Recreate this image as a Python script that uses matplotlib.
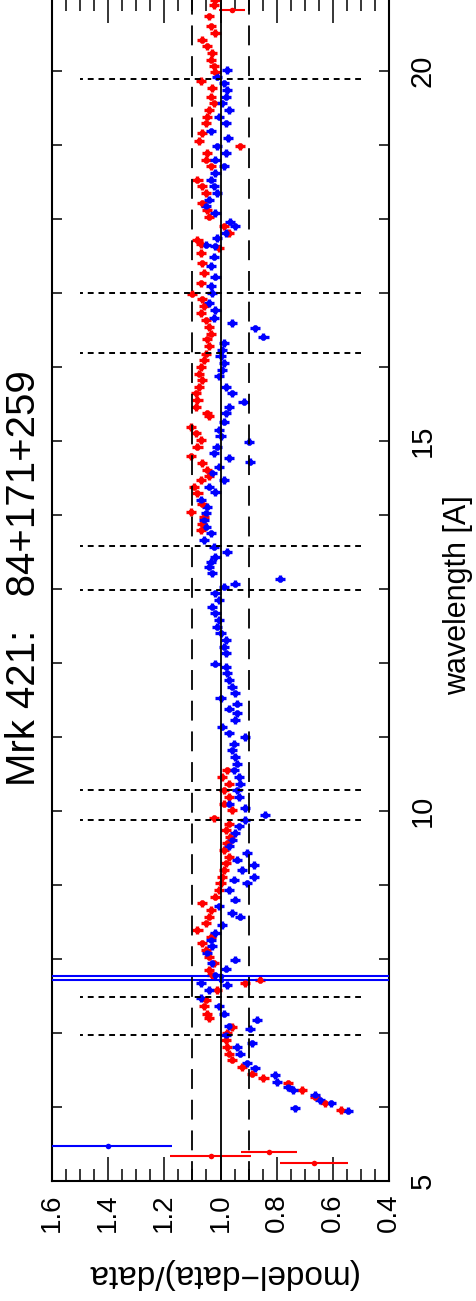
#!/usr/bin/env python3

"""
Mrk 421 residuals (model-data)/data vs wavelength, rotated page layout.
"""

import matplotlib
matplotlib.use("Agg")
import matplotlib.pyplot as plt
from matplotlib.ticker import MultipleLocator

plt.rcParams['font.family'] = ['Liberation Sans', 'DejaVu Sans']

# red spectrum: wavelength [A] and residual
red_wl = [20.96, 20.89, 20.735, 20.60, 20.51, 20.42, 20.33, 20.24, 20.15, 20.06,
          19.99, 19.86, 19.77, 19.65, 19.56, 19.47, 19.38, 19.29, 19.16, 19.05,
          18.98, 18.89, 18.80, 18.71, 18.53, 18.44, 18.35, 18.21, 18.12, 18.03,
          17.90, 17.81, 17.72, 17.66, 17.60, 17.54, 17.40, 17.27, 17.13, 16.99,
          16.91, 16.82, 16.73, 16.63, 16.54, 16.45, 16.37, 16.28, 16.18, 16.09,
          16.00, 15.91, 15.82, 15.73, 15.64, 15.55, 15.46, 15.37, 15.33, 15.19,
          15.10, 15.01, 14.92, 14.79, 14.70, 14.61, 14.52, 14.38, 14.47, 14.29,
          14.15, 14.04, 13.97, 13.88, 13.79,
          10.55, 10.46, 10.37, 10.28, 10.19, 10.10, 10.01, 9.90, 9.83, 9.74,
          9.65, 9.56, 9.47, 9.38, 9.29, 9.20, 9.11, 9.02, 8.93, 8.84,
          8.75, 8.66, 8.57, 8.48, 8.39, 8.30, 8.21, 8.12, 8.03, 7.94,
          7.85, 7.78, 7.72, 7.67, 7.58, 7.45, 7.36, 7.26, 7.20, 7.08,
          7.00, 6.90, 6.81, 6.72, 6.64, 6.54, 6.45, 6.39, 6.32, 6.23,
          6.14, 6.05, 5.96]
red_val = [1.018, 1.024, 1.041, 1.035, 1.018, 1.065, 1.047, 1.029, 1.035, 1.024,
           1.018, 1.071, 1.029, 1.035, 1.024, 1.041, 1.047, 1.053, 1.065, 1.077,
           0.929, 1.047, 1.053, 1.035, 1.082, 1.065, 1.053, 1.065, 1.047, 1.041,
           0.988, 0.971, 1.082, 1.071, 1.006, 1.071, 1.065, 1.059, 1.071, 1.100,
           1.065, 1.059, 1.071, 1.053, 1.041, 1.035, 1.047, 1.041, 1.053, 1.059,
           1.071, 1.077, 1.065, 1.077, 1.088, 1.082, 1.088, 1.047, 1.041, 1.106,
           1.088, 1.071, 1.082, 1.106, 1.065, 1.047, 1.041, 1.094, 1.071, 1.082,
           1.065, 1.106, 1.059, 1.065, 1.071,
           0.976, 0.994, 0.971, 0.988, 0.971, 0.988, 0.959, 1.024, 0.971, 0.982,
           0.965, 0.976, 0.988, 0.971, 0.982, 0.988, 0.994, 1.000, 1.006, 1.018,
           1.065, 1.035, 1.041, 1.053, 1.082, 1.035, 1.065, 1.053, 1.041, 1.024,
           1.041, 1.029, 0.859, 0.912, 1.012, 1.053, 1.059, 1.047, 1.041, 0.959,
           0.976, 0.982, 0.976, 0.971, 0.959, 0.923, 0.888, 0.847, 0.759, 0.711,
           0.664, 0.629, 0.570]

# blue spectrum
blue_wl = [20.01, 19.92, 19.83, 19.74, 19.65, 19.56, 19.47, 19.38, 19.29, 19.18,
           19.09, 18.98, 18.89, 18.80, 18.71, 18.62, 18.53, 18.44, 18.35, 18.26,
           18.17, 18.08, 17.96, 17.90, 17.81, 17.74, 17.65, 17.63, 17.49, 17.36,
           17.22, 17.09, 17.00, 16.86, 16.77, 16.66, 16.59, 16.52, 16.41, 16.32,
           16.23, 16.14, 16.05, 15.96, 15.87, 15.73, 15.64, 15.53, 15.46, 15.37,
           15.26, 15.15, 15.06, 14.99, 14.92, 14.83, 14.77, 14.72, 14.65, 14.56,
           14.47, 14.38, 14.31, 14.20, 14.11, 14.02, 13.93, 13.84, 13.75, 13.66,
           13.57, 13.50, 13.43, 13.37, 13.30, 13.21, 13.14, 13.07, 13.03, 12.94,
           12.85, 12.76, 12.67, 12.58, 12.49, 12.40, 12.31, 12.22, 12.13, 11.99,
           11.95, 11.86, 11.77, 11.68, 11.59, 11.52, 11.45, 11.38, 11.32, 11.23,
           11.14, 11.05, 11.00, 10.91, 10.82, 10.73, 10.64, 10.55, 10.46, 10.37,
           10.28, 10.19, 10.10, 10.04, 9.95, 9.88, 9.79, 9.70, 9.61, 9.52,
           9.43, 9.34, 9.27, 9.20, 9.11, 9.07, 9.02, 8.93, 8.80, 8.71,
           8.62, 8.57, 8.46, 8.35, 8.26, 8.17, 8.08, 7.99, 7.94, 7.87,
           7.78, 7.67, 7.65, 7.58, 7.47, 7.36, 7.26, 7.18, 7.09, 7.06,
           6.97, 6.86, 6.81, 6.72, 6.59, 6.52, 6.43, 6.34, 6.27, 6.23,
           6.16, 6.09, 6.05, 5.98, 5.95]
blue_val = [0.976, 1.012, 0.988, 0.976, 0.982, 0.994, 0.971, 1.006, 0.982, 1.035,
            0.973, 1.012, 0.982, 1.018, 0.988, 1.018, 1.035, 1.024, 1.012, 1.041,
            1.053, 1.018, 0.965, 0.947, 0.982, 1.012, 1.053, 1.018, 1.024, 1.035,
            1.018, 1.035, 1.029, 1.041, 1.018, 1.024, 0.959, 0.876, 0.847, 0.988,
            0.994, 1.000, 0.988, 0.994, 1.006, 0.982, 0.959, 0.918, 0.971, 0.982,
            0.988, 1.006, 1.000, 0.900, 1.012, 1.024, 0.971, 0.894, 1.006, 1.029,
            0.988, 1.041, 1.018, 1.071, 1.047, 1.053, 1.059, 1.053, 1.035, 1.059,
            1.024, 0.976, 1.018, 1.035, 1.041, 1.029, 0.788, 0.947, 0.988, 1.018,
            1.006, 1.029, 1.018, 1.006, 1.012, 1.000, 0.982, 0.988, 0.982, 1.018,
            0.982, 0.976, 0.971, 0.959, 0.947, 1.000, 0.941, 0.971, 0.941, 0.947,
            0.994, 0.971, 0.912, 0.953, 0.959, 0.947, 0.941, 0.953, 0.935, 0.929,
            0.941, 0.935, 0.971, 0.912, 0.841, 0.912, 0.935, 0.947, 0.959, 0.971,
            0.906, 0.941, 0.882, 0.923, 0.882, 0.953, 0.906, 0.971, 0.947, 1.006,
            0.959, 0.929, 0.994, 1.018, 1.035, 1.029, 1.047, 0.947, 1.029, 0.982,
            1.018, 1.071, 0.976, 1.041, 1.071, 1.006, 0.988, 0.870, 0.971, 0.894,
            0.982, 0.888, 0.941, 0.929, 0.906, 0.876, 0.806, 0.800, 0.759, 0.741,
            0.664, 0.647, 0.605, 0.735, 0.547]

# points with large errors
red_big_wl = [5.24, 5.34, 5.39, 20.82]
red_big_val = [0.667, 1.035, 0.826, 0.960]
red_big_err = [0.120, 0.145, 0.100, 0.047]
blue_big_wl = [5.47, 7.716, 7.766]
blue_big_val = [1.400, 1.000, 1.000]
blue_big_err = [0.227, 1.000, 1.000]

# marked wavelengths (dotted lines)
line_wl = [19.89, 17.0, 16.19, 13.58, 12.99, 10.28, 9.88, 7.49, 6.97]

val_ticks = [1.6, 1.4, 1.2, 1.0, 0.8, 0.6, 0.4]
wl_ticks = list(range(5, 21))
wl_labels = [str(t) if t % 5 == 0 else "" for t in wl_ticks]

fig = plt.figure(figsize=(4.77, 13.01), dpi=100)
ax = fig.add_axes([52 / 477, 120 / 1301, 337 / 477, 1182 / 1301])
ax.set_xlim(1.6, 0.4)
ax.set_ylim(5, 20.97)

ax.errorbar(red_val, red_wl, xerr=0.018, yerr=0.05, fmt='o', ms=4.5,
            color='red', mew=0, elinewidth=2.4, capsize=0, zorder=3)
ax.errorbar(blue_val, blue_wl, xerr=0.018, yerr=0.05, fmt='o', ms=4.5,
            color='blue', mew=0, elinewidth=2.4, capsize=0, zorder=3)
ax.errorbar(red_big_val, red_big_wl, xerr=red_big_err, fmt='o', ms=4,
            color='red', mew=0, elinewidth=1.5, capsize=0, zorder=3)
ax.errorbar(blue_big_val, blue_big_wl, xerr=blue_big_err, fmt='o', ms=4,
            color='blue', mew=0, elinewidth=1.5, capsize=0, zorder=3)

ax.axvline(1.0, color='black', lw=1.3, zorder=4)
for v in (1.1, 0.9):
    ax.axvline(v, color='black', lw=1.3, ls=(0, (11, 6)), zorder=4)
ax.hlines(line_wl, 0.5, 1.5, colors='black', lw=1.4,
          linestyles=(0, (3, 2.5)), zorder=4)

ax.xaxis.set_major_locator(MultipleLocator(0.2))
ax.xaxis.set_minor_locator(MultipleLocator(0.05))
ax.set_xticks(val_ticks)
ax.set_xticklabels([f"{t:.1f}" for t in val_ticks])
ax.tick_params(axis='x', which='major', direction='in', length=17, width=1.1,
               top=True, bottom=True, labelsize=20, pad=9, labelrotation=90)
ax.tick_params(axis='x', which='minor', direction='in', length=8.5, width=1.1,
               top=True, bottom=True)

ax.set_yticks(wl_ticks)
ax.set_yticklabels(wl_labels)
ax.tick_params(axis='y', which='major', direction='in', length=7, width=1.1,
               left=True, right=True, labelleft=False, labelright=True,
               labelsize=21, pad=14, labelrotation=90)
for lab in ax.get_yticklabels():
    lab.set_verticalalignment('center')

for spine in ax.spines.values():
    spine.set_linewidth(1.5)

fig.text(24 / 477, 1 - 578 / 1301, "Mrk 421:   84+171+259", rotation=90,
         ha='center', va='center', fontsize=29)
fig.text(221 / 477, 1 - 1273 / 1301, "(model\u2212data)/data", rotation=180,
         ha='center', va='center', fontsize=24)
fig.text(458 / 477, 1 - 595 / 1301, "wavelength [A]", rotation=90,
         ha='center', va='center', fontsize=22)

fig.savefig("out.png", dpi=100)
